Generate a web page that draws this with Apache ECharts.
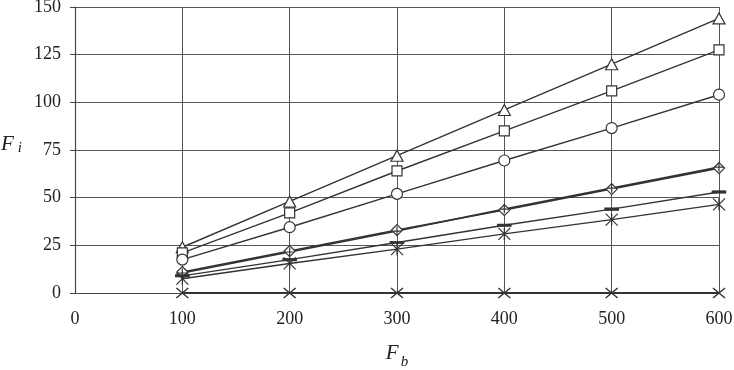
<!DOCTYPE html>
<html>
<head>
<meta charset="utf-8">
<script src="https://cdn.jsdelivr.net/npm/echarts@6/dist/echarts.min.js"></script>
<style>html,body{margin:0;padding:0;background:#fff;}#c{width:734px;height:370px;}</style>
</head>
<body>
<div id="c"></div>
<script>
var fb = [100, 200, 300, 400, 500, 600];
var triangleVals = [24, 48, 72, 96, 120, 144];
var squareVals = [21, 42, 64, 85, 106, 127.5];
var circleVals = [17.5, 34.5, 52, 69.5, 86.5, 104];
var diamondVals = [11, 22, 33, 43.5, 54.5, 65.5];
var plusVals = [10.5, 21.5, 32.5, 44, 55, 66];
var dashVals = [9, 17.5, 26.5, 35.5, 44, 53];
var starVals = [7.5, 15.5, 23, 31, 38.5, 46.5];
var crossVals = [0, 0, 0, 0, 0, 0];
var xTicks = [0, 100, 200, 300, 400, 500, 600];
var yTicks = [0, 25, 50, 75, 100, 125, 150];

function pairs(v){ return fb.map(function(x,i){ return [x, v[i]]; }); }
var ink = '#333';
function mk(name, vals, symbol, size, fill, lw){
  return {
    name: name, type: 'line', data: pairs(vals), symbol: symbol, symbolSize: size,
    showAllSymbol: true, animation: false,
    lineStyle: {color: ink, width: lw || 1.4},
    itemStyle: {color: fill, borderColor: ink, borderWidth: 1.2},
    z: 3
  };
}
var chart = echarts.init(document.getElementById('c'), null, {renderer: 'canvas'});
chart.setOption({
  backgroundColor: '#fff',
  animation: false,
  grid: {left: 75, right: 15, top: 7, bottom: 77, show: false, containLabel: false, outerBoundsMode: 'none'},
  xAxis: {
    type: 'value', min: 0, max: 600, interval: 100,
    name: '{f|F}{s|b}', nameLocation: 'middle', nameGap: 50,
    nameTextStyle: {rich: {
      f: {fontFamily: 'Liberation Serif', fontStyle: 'italic', fontSize: 21, color: '#222'},
      s: {fontFamily: 'Liberation Serif', fontStyle: 'italic', fontSize: 15, color: '#222', verticalAlign: 'bottom', padding: [0,0,-6,2]}
    }},
    axisLine: {show: true, onZero: false, lineStyle: {color: '#444', width: 1.2}},
    axisTick: {show: false},
    axisLabel: {fontFamily: 'Liberation Serif', fontSize: 18, color: '#222', margin: 17,
      formatter: function(v){ return xTicks.indexOf(v) >= 0 ? String(v) : ''; }},
    splitLine: {show: true, lineStyle: {color: '#555', width: 1}}
  },
  yAxis: {
    type: 'value', min: 0, max: 150, interval: 25,
    axisLine: {show: true, lineStyle: {color: '#444', width: 1.2}},
    axisTick: {show: true, length: 5, lineStyle: {color: '#444'}},
    axisLabel: {fontFamily: 'Liberation Serif', fontSize: 18, color: '#222', margin: 14,
      formatter: function(v){ return yTicks.indexOf(v) >= 0 ? String(v) : ''; }},
    splitLine: {show: true, lineStyle: {color: '#555', width: 1}}
  },
  graphic: [
    {type: 'text', left: 1, top: 134, style: {
      text: '{f|F}{s|i}',
      rich: {
        f: {fontFamily: 'Liberation Serif', fontStyle: 'italic', fontSize: 21, fill: '#222'},
        s: {fontFamily: 'Liberation Serif', fontStyle: 'italic', fontSize: 15, fill: '#222', padding: [8,0,0,4]}
      }
    }}
  ],
  series: [
    mk('triangle', triangleVals, 'path://M5,0L10,9L0,9Z', [12, 11], '#fff'),
    mk('square', squareVals, 'rect', 10, '#fff'),
    mk('circle', circleVals, 'circle', 11, '#fff'),
    mk('diamond', diamondVals, 'path://M5,0L10,5L5,10L0,5Z', 11, '#fff', 1.6),
    mk('plus', plusVals, 'path://M5,0L5,10M0,5L10,5', 9, 'transparent', 1.6),
    mk('dash', dashVals, 'rect', [12, 2.5], ink),
    mk('star', starVals, 'path://M0,0L10,10M10,0L0,10M5,0L5,10', [12, 12], 'transparent'),
    mk('cross', crossVals, 'path://M0,0L10,10M10,0L0,10', [12, 10], 'transparent', 2)
  ]
});
</script>
</body>
</html>
